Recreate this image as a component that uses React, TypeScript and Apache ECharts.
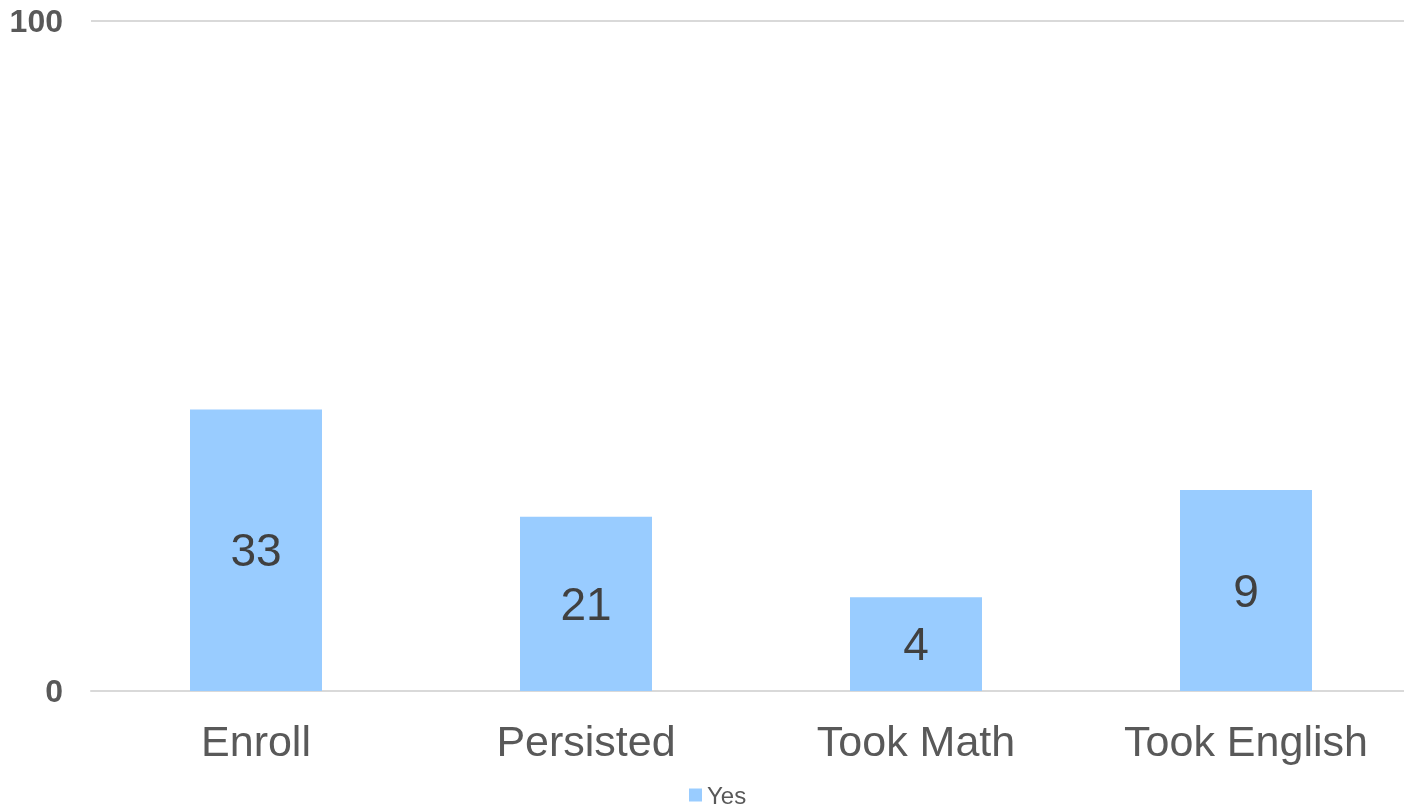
import React, { useEffect, useRef } from "react";
import * as echarts from "echarts";

const categories = ["Enroll", "Persisted", "Took Math", "Took English"];
const barValues = [42, 26, 14, 30];
const barLabels = ["33", "21", "4", "9"];
const seriesName = "Yes";
const yTicks = { min: 0, max: 100, interval: 100 };

export default function App() {
  const ref = useRef<HTMLDivElement>(null);
  useEffect(() => {
    if (!ref.current) return;
    const chart = echarts.init(ref.current, undefined, { renderer: "svg" });
    chart.setOption({
      animation: false,
      textStyle: { fontFamily: "Liberation Sans, Arial, sans-serif" },
      grid: { left: 91, right: 0, top: 21, bottom: 120, containLabel: false },
      legend: {
        data: [seriesName],
        bottom: -1,
        left: 684,
        icon: "rect",
        itemWidth: 13,
        itemHeight: 13,
        itemGap: 6,
        textStyle: { fontSize: 24, color: "#595959", fontFamily: "Liberation Sans, Arial, sans-serif" },
      },
      xAxis: {
        type: "category",
        data: categories,
        axisLine: { lineStyle: { color: "#d9d9d9", width: 2 } },
        axisTick: { show: false },
        axisLabel: { fontSize: 43, color: "#595959", margin: 28 },
      },
      yAxis: {
        type: "value",
        min: yTicks.min,
        max: yTicks.max,
        interval: yTicks.interval,
        axisLine: { show: false },
        axisTick: { show: false },
        splitLine: { lineStyle: { color: "#d9d9d9", width: 2 } },
        axisLabel: { fontSize: 32, fontWeight: "bold", color: "#595959", margin: 28 },
      },
      series: [
        {
          name: seriesName,
          type: "bar",
          data: barValues,
          barWidth: 132,
          itemStyle: { color: "#99ccff" },
          label: {
            show: true,
            position: "inside",
            fontSize: 46,
            color: "#404040",
            formatter: (p: any) => barLabels[p.dataIndex],
          },
        },
      ],
    });
    return () => chart.dispose();
  }, []);
  return <div ref={ref} style={{ position: "fixed", left: 0, top: 0, width: 1411, height: 811 }} />;
}
